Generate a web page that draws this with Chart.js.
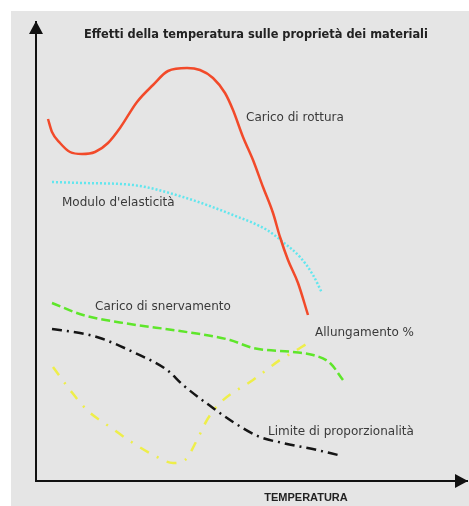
<!DOCTYPE html>
<html>
<head>
<meta charset="utf-8">
<script src="https://cdn.jsdelivr.net/npm/chart.js@4"></script>
<style>
  body { margin: 0; background: #fff; }
  #wrap { width: 469px; height: 506px; }
</style>
</head>
<body>
<div id="wrap"><canvas id="chart" width="469" height="506"></canvas></div>
<script>
// readings (arbitrary units, x = temperature, y = property)
const rotturaX = [12, 16, 24, 34, 46, 59, 72, 84, 101, 117, 132, 151, 164, 177, 189, 197, 207, 217, 227, 237, 244, 252, 262, 272];
const rotturaY = [362, 349, 338, 329, 327, 329, 338, 353, 379, 396, 410, 413, 411, 403, 388, 371, 344, 321, 294, 268, 244, 221, 198, 166];

const moduloX = [16, 47, 97, 147, 197, 231, 247, 264, 277, 286];
const moduloY = [299, 298, 296, 284, 266, 251, 239, 224, 206, 188];

const snervX = [16, 47, 94, 144, 194, 217, 257, 277, 294, 307];
const snervY = [178, 166, 157, 150, 141, 133, 129, 126, 118, 101];

const limiteX = [16, 44, 64, 97, 131, 147, 177, 197, 224, 247, 281, 302];
const limiteY = [152, 148, 143, 129, 111, 96, 73, 59, 44, 38, 31, 26];

const allungX = [17, 34, 51, 74, 97, 121, 137, 149, 161, 171, 184, 217, 244, 264, 277];
const allungY = [114, 91, 71, 54, 38, 24, 18, 21, 41, 61, 78, 101, 121, 133, 141];

const seriesNames = ['Carico di rottura', "Modulo d'elasticità", 'Carico di snervamento', 'Limite di proporzionalità', 'Allungamento %'];
// where each curve label sits (same units as the data)
const labelX = [210, 26, 59, 232, 279];
const labelY = [363, 278, 174, 49, 148];

const chartTitle = 'Effetti della temperatura sulle proprietà dei materiali';
const xAxisTitle = 'TEMPERATURA';

function toPoints(xs, ys) {
    return xs.map((x, i) => ({ x: x, y: ys[i] }));
}

const lineBase = { borderWidth: 2.5, pointRadius: 0, cubicInterpolationMode: 'monotone', fill: false };

const decorPlugin = {
    id: 'decor',
    beforeDraw(chart) {
        const ctx = chart.ctx;
        ctx.save();
        ctx.fillStyle = '#e5e5e5';
        ctx.fillRect(11, 11, chart.width - 11, chart.height - 11);
        ctx.restore();
    },
    afterDraw(chart) {
        const ctx = chart.ctx;
        const area = chart.chartArea;
        const xs = chart.scales.x, ys = chart.scales.y;
        ctx.save();
        // arrow heads on the two axes
        ctx.fillStyle = '#111';
        ctx.beginPath();
        ctx.moveTo(area.left, area.top - 1);
        ctx.lineTo(area.left - 7, area.top + 12);
        ctx.lineTo(area.left + 7, area.top + 12);
        ctx.closePath();
        ctx.fill();
        ctx.beginPath();
        ctx.moveTo(area.right + 1, area.bottom);
        ctx.lineTo(area.right - 12, area.bottom - 7);
        ctx.lineTo(area.right - 12, area.bottom + 7);
        ctx.closePath();
        ctx.fill();

        // title and axis name
        ctx.fillStyle = '#222';
        ctx.textBaseline = 'middle';
        ctx.textAlign = 'center';
        ctx.font = 'bold 11.4px "DejaVu Sans", sans-serif';
        ctx.fillText(chartTitle, 256, 35);
        ctx.font = 'bold 11px "Liberation Sans", Arial, sans-serif';
        ctx.fillText(xAxisTitle, 306, 498);

        // curve labels
        ctx.fillStyle = '#3a3a3a';
        ctx.textAlign = 'left';
        ctx.font = '12px "DejaVu Sans", sans-serif';
        seriesNames.forEach((name, i) => {
            ctx.fillText(name, xs.getPixelForValue(labelX[i]), ys.getPixelForValue(labelY[i]));
        });
        ctx.restore();
    }
};

new Chart(document.getElementById('chart'), {
    type: 'line',
    data: {
        datasets: [
            { ...lineBase, label: seriesNames[0], data: toPoints(rotturaX, rotturaY), borderColor: '#f24a2a' },
            { ...lineBase, label: seriesNames[1], data: toPoints(moduloX, moduloY), borderColor: '#62e6ee', borderDash: [2, 2] },
            { ...lineBase, label: seriesNames[2], data: toPoints(snervX, snervY), borderColor: '#5ee62a', borderDash: [9, 4] },
            { ...lineBase, label: seriesNames[3], data: toPoints(limiteX, limiteY), borderColor: '#151515', borderDash: [10, 5, 2, 5] },
            { ...lineBase, label: seriesNames[4], data: toPoints(allungX, allungY), borderColor: '#eeee4a', borderDash: [10, 9, 2, 9] }
        ]
    },
    options: {
        responsive: false,
        animation: false,
        layout: { padding: { left: 36, right: 2, top: 22, bottom: 25 } },
        plugins: {
            legend: { display: false },
            tooltip: { enabled: false }
        },
        scales: {
            x: {
                type: 'linear', min: 0, max: 431,
                ticks: { display: false },
                grid: { display: false, drawTicks: false },
                border: { display: true, color: '#111', width: 2 }
            },
            y: {
                type: 'linear', min: 0, max: 459,
                ticks: { display: false },
                grid: { display: false, drawTicks: false },
                border: { display: true, color: '#111', width: 2 }
            }
        }
    },
    plugins: [decorPlugin]
});
</script>
</body>
</html>
